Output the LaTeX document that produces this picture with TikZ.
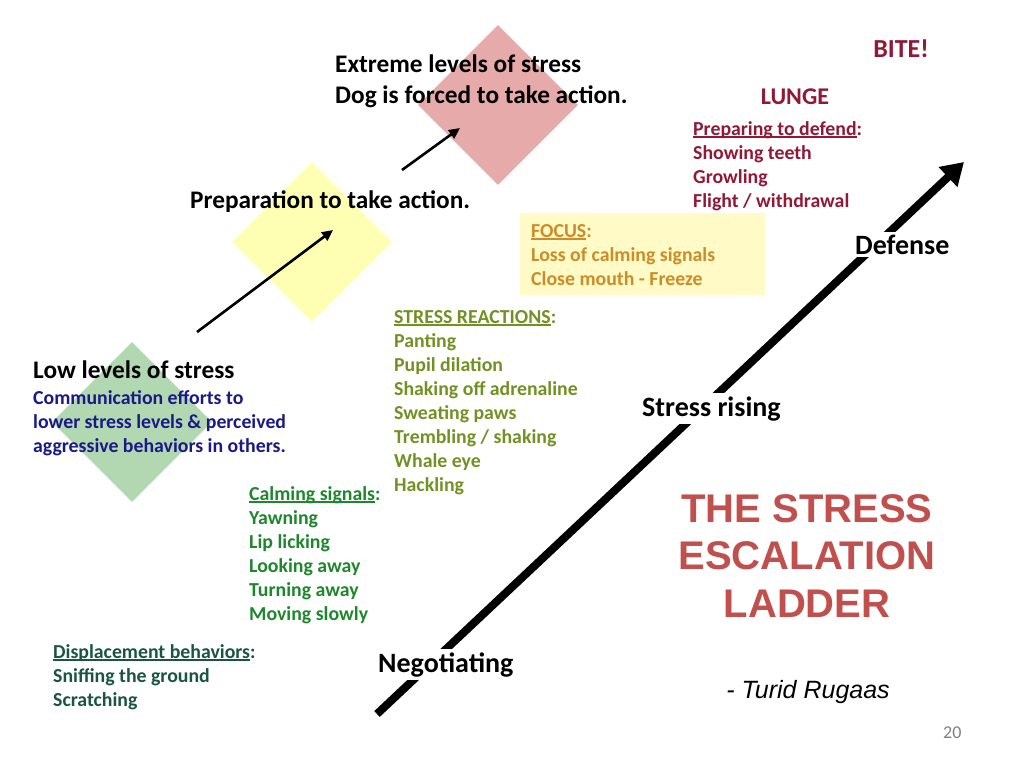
\documentclass[tikz,border=0pt]{standalone}
\usepackage{fontspec}
\setmainfont{Carlito}
\newfontfamily\arialfont{Liberation Sans}
\usetikzlibrary{arrows.meta,shapes.geometric}
\definecolor{navy}{RGB}{25,25,135}
\definecolor{calmgreen}{RGB}{30,135,45}
\definecolor{dispgreen}{RGB}{25,85,65}
\definecolor{olive}{RGB}{115,145,35}
\definecolor{gold}{RGB}{205,140,40}
\definecolor{darkred}{RGB}{145,25,55}
\definecolor{titlered}{RGB}{192,80,77}
\definecolor{focusfill}{RGB}{255,250,198}
\definecolor{dgreen}{RGB}{178,216,178}
\definecolor{dyellow}{RGB}{255,255,180}
\definecolor{dpink}{RGB}{230,170,170}
\newcommand\myul[1]{\setbox0\hbox{#1}\rlap{\rule[-2.4pt]{\wd0}{1.3pt}}\box0}
\tikzset{
  dia/.style={diamond, aspect=1, minimum width=160pt, minimum height=160pt, inner sep=0pt, draw=none},
  head/.style={inner sep=0pt, anchor=base west, font=\fontsize{25.3}{31}\selectfont\bfseries},
  stage/.style={inner sep=0pt, anchor=base west, font=\fontsize{28}{33}\selectfont\bfseries, fill=white, inner xsep=3pt, inner ysep=3pt},
  list/.style={inner sep=0pt, anchor=north west, align=left, font=\fontsize{19.8}{24}\selectfont\bfseries},
  thinarrow/.style={line width=2.6pt, -{Triangle[length=11pt,width=10pt]}},
  bigarrow/.style={line width=8pt, -{Triangle[length=22pt,width=26pt]}},
}
\begin{document}
\begin{tikzpicture}[x=1pt,y=-1pt]
\useasboundingbox (0,0) rectangle (1024,768);
\fill[white] (0,0) rectangle (1024,768);
% diamonds
\node[dia, fill=dgreen] (dlow) at (132,422) {};
\node[dia, fill=dyellow] (dprep) at (312,242) {};
\node[dia, fill=dpink] (dext) at (498,105) {};
% focus box
\node[fill=focusfill, minimum width=245pt, minimum height=82pt, anchor=north west, inner sep=0pt] (focusbox) at (520,213) {};
% thin arrows
\coordinate (a1s) at (197,332);
\coordinate (a1e) at (333,230);
\coordinate (a2s) at (402,170);
\coordinate (a2e) at (460,128);
\draw[thinarrow] (a1s) -- (a1e);
\draw[thinarrow] (a2s) -- (a2e);
% big arrow
\coordinate (bs) at (377,714);
\coordinate (be) at (964,162);
\draw[bigarrow] (bs) -- (be);
% headings
\node[head, anchor=north west, align=left] (extreme) at (335,50.3) {\strut Extreme levels of stress\\Dog is forced to take action.};
\node[head] (prep) at (190,208) {Preparation to take action.};
\node[head] (low) at (33,378) {Low levels of stress};
\node[stage] (defense) at (852,254) {Defense};
\node[stage] (rising) at (639,416) {Stress rising};
\node[stage] (nego) at (375,672) {Negotiating};
\node[inner sep=0pt, anchor=base, text=darkred, font=\fontsize{24}{29}\selectfont\bfseries] (lunge) at (795,104) {LUNGE};
\node[inner sep=0pt, anchor=base, text=darkred, font=\fontsize{26}{31}\selectfont\bfseries] (bite) at (901,57) {BITE!};
% lists
\node[list, text=navy] (comm) at (33,387.2) {\strut Communication efforts to\\lower stress levels \& perceived\\aggressive behaviors in others.};
\node[list, text=calmgreen] (calm) at (249,483.2) {\strut\myul{Calming signals}:\\Yawning\\Lip licking\\Looking away\\Turning away\\Moving slowly};
\node[list, text=dispgreen] (disp) at (53,641.2) {\strut\myul{Displacement behaviors}:\\Sniffing the ground\\Scratching};
\node[list, text=olive] (react) at (394,306.2) {\strut\myul{STRESS REACTIONS}:\\Panting\\Pupil dilation\\Shaking off adrenaline\\Sweating paws\\Trembling / shaking\\Whale eye\\Hackling};
\node[list, text=gold] (focus) at (531,220.2) {\strut\myul{FOCUS}:\\Loss of calming signals\\Close mouth - Freeze};
\node[list, text=darkred] (defend) at (693,118.2) {\strut\myul{Preparing to defend}:\\Showing teeth\\Growling\\Flight / withdrawal};
% title
\node[inner sep=0pt, anchor=north, align=center, text=titlered, font=\arialfont\bfseries\fontsize{40}{47.5}\selectfont] (title) at (807,488.75) {\strut THE STRESS\\ESCALATION\\LADDER};
\node[inner sep=0pt, anchor=base, font=\arialfont\itshape\fontsize{25}{30}\selectfont] (author) at (808,698) {- Turid Rugaas};
\node[inner sep=0pt, anchor=base west, text=black!50, font=\fontsize{18}{21}\selectfont] (page) at (943,738) {20};
\end{tikzpicture}
\end{document}
